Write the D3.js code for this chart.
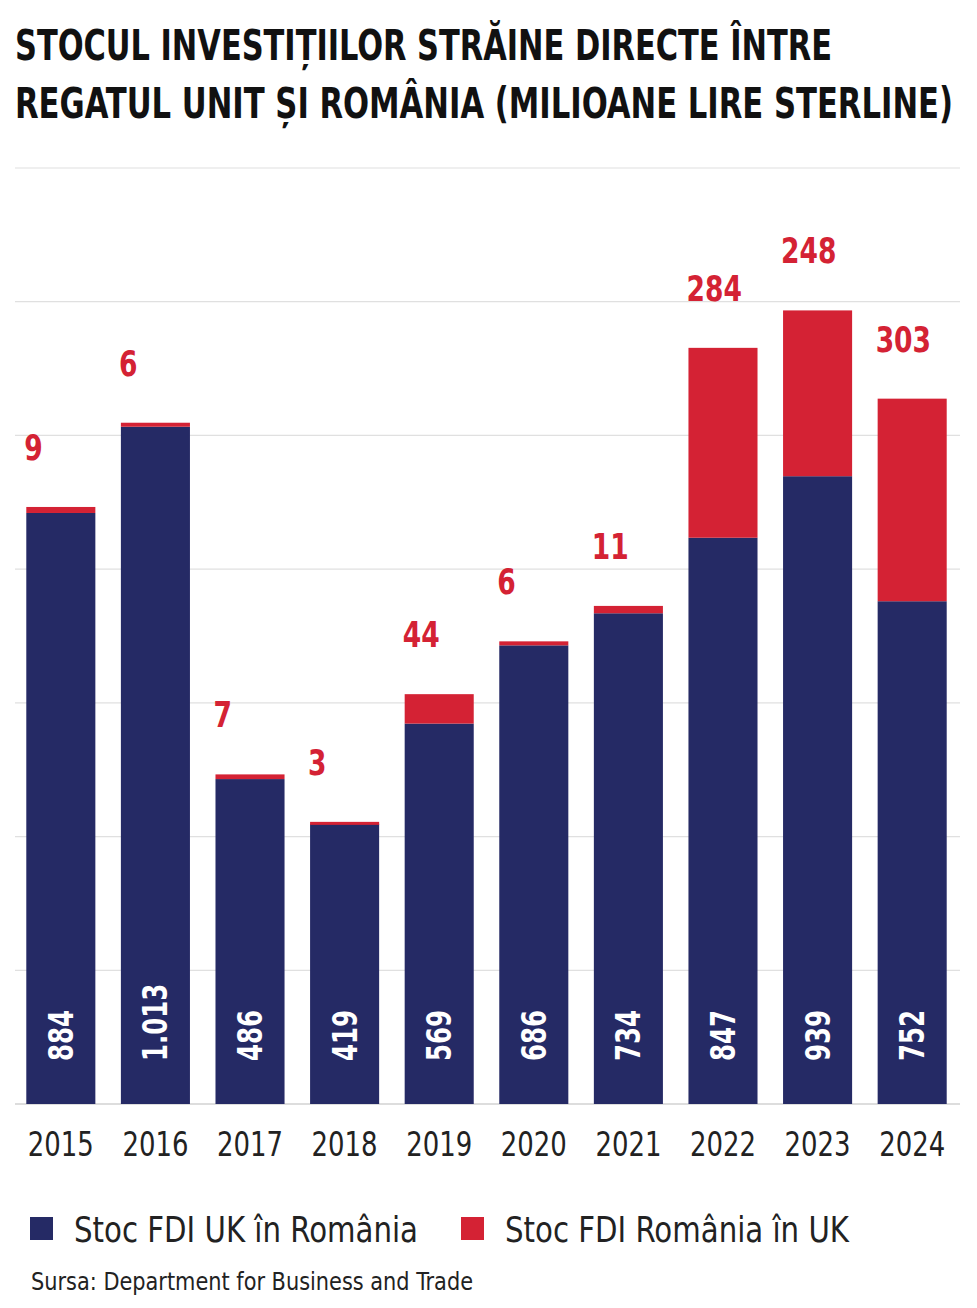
<!DOCTYPE html>
<html><head><meta charset="utf-8">
<script src="https://cdn.jsdelivr.net/npm/d3@7"></script>
<style>body{margin:0;background:#fff}</style></head>
<body><svg id="c" width="977" height="1308"></svg>
<script>
// data
const years = ["2015","2016","2017","2018","2019","2020","2021","2022","2023","2024"];
const ukInRo = [884, 1013, 486, 419, 569, 686, 734, 847, 939, 752];
const roInUk = [9, 6, 7, 3, 44, 6, 11, 284, 248, 303];
const ukLabels = ["884","1.013","486","419","569","686","734","847","939","752"];
const gridTicks = [0, 200, 400, 600, 800, 1000, 1200, 1400];

const navy = "#252a65", red = "#d42234";
const font = "'DejaVu Sans Condensed','Roboto',sans-serif";
const svg = d3.select("#c");

const x = d3.scaleBand().domain(years).range([14, 959]).paddingInner(0.27).paddingOuter(0.13);
const y = d3.scaleLinear().domain([0, 1400]).range([1104, 168]);

// title
[["STOCUL INVESTIȚIILOR STRĂINE DIRECTE ÎNTRE", 60, 817], ["REGATUL UNIT ȘI ROMÂNIA (MILIOANE LIRE STERLINE)", 118, 938]].forEach(([t, yy, w]) => {
  svg.append("text").attr("x", 15).attr("y", yy).attr("font-family", font).attr("font-weight", "bold")
    .attr("font-size", 42).attr("fill", "#111").attr("textLength", w).attr("lengthAdjust", "spacingAndGlyphs").text(t);
});

// grid
svg.append("g").selectAll("line").data(gridTicks).join("line")
  .attr("x1", 15).attr("x2", 960).attr("y1", d => y(d)).attr("y2", d => y(d))
  .attr("stroke", d => d === 0 ? "#bbb" : "#e0e0e0").attr("stroke-width", 1.2);

const rows = years.map((yr, i) => ({yr, a: ukInRo[i], b: roInUk[i], la: ukLabels[i]}));
const g = svg.append("g");
g.selectAll(".a").data(rows).join("rect")
  .attr("x", d => x(d.yr)).attr("width", x.bandwidth())
  .attr("y", d => y(d.a)).attr("height", d => y(0) - y(d.a)).attr("fill", navy);
g.selectAll(".b").data(rows).join("rect")
  .attr("x", d => x(d.yr)).attr("width", x.bandwidth())
  .attr("y", d => y(d.a + d.b)).attr("height", d => Math.max(3, y(d.a) - y(d.a + d.b))).attr("fill", red);

// red value labels
g.selectAll(".lb").data(rows).join("text")
  .attr("transform", d => `translate(${x(d.yr) - 2},${y(d.a + d.b) - 47}) scale(0.82,1)`)
  .attr("font-family", font).attr("font-weight", "bold").attr("font-size", 36).attr("fill", red)
  .text(d => d.b);

// white rotated labels
g.selectAll(".la").data(rows).join("text")
  .attr("transform", d => `translate(${x(d.yr) + x.bandwidth() / 2 + 12},1061) rotate(-90) scale(0.8,1)`)
  .attr("font-family", font).attr("font-weight", "bold").attr("font-size", 34).attr("fill", "#fff")
  .text(d => d.la);

// x axis labels
const ax = svg.append("g").attr("transform", "translate(0,1104)")
  .call(d3.axisBottom(x).tickSize(0).tickPadding(28));
ax.select(".domain").remove();
ax.selectAll("text").attr("font-family", font).attr("font-size", 34).attr("fill", "#222")
  .attr("textLength", 66).attr("lengthAdjust", "spacingAndGlyphs");

// legend
const legend = [["Stoc FDI UK în România", navy, 30], ["Stoc FDI România în UK", red, 461]];
legend.forEach(([t, c, lx]) => {
  svg.append("rect").attr("x", lx).attr("y", 1217).attr("width", 23).attr("height", 23).attr("fill", c);
  svg.append("text").attr("x", lx + 44).attr("y", 1242).attr("font-family", font).attr("font-size", 36)
    .attr("fill", "#222").attr("textLength", 344).attr("lengthAdjust", "spacingAndGlyphs").text(t);
});
svg.append("text").attr("x", 31).attr("y", 1290).attr("font-family", font).attr("font-size", 24)
  .attr("fill", "#222").attr("textLength", 442).attr("lengthAdjust", "spacingAndGlyphs")
  .text("Sursa: Department for Business and Trade");
</script></body></html>
